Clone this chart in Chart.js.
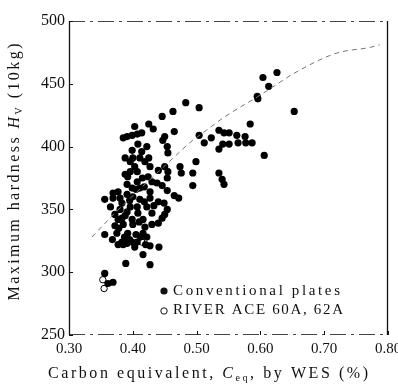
<!DOCTYPE html>
<html>
<head>
<meta charset="utf-8">
<script src="https://cdn.jsdelivr.net/npm/chart.js@4"></script>
<style>
  html, body { margin: 0; padding: 0; background: #fff; }
  canvas { display: block; }
</style>
</head>
<body>
<canvas id="chart" width="398" height="386"></canvas>
<script>
// conventional plates (filled dots)
const convX = [
  0.626, 0.604, 0.613, 0.595, 0.596, 0.653, 0.483, 0.504, 0.463, 0.446,
  0.504, 0.512, 0.523, 0.535, 0.543, 0.551, 0.541, 0.551, 0.563, 0.565,
  0.576, 0.577, 0.587, 0.535, 0.584, 0.606, 0.535, 0.540, 0.543,
  0.403, 0.425, 0.432, 0.385, 0.391, 0.399, 0.407, 0.414, 0.408, 0.399,
  0.414, 0.422, 0.388, 0.400, 0.411, 0.425,
  0.465, 0.450, 0.447, 0.454, 0.455, 0.450, 0.455, 0.474, 0.476, 0.499,
  0.494, 0.454, 0.446, 0.494, 0.454, 0.465, 0.472, 0.449, 0.454, 0.450, 0.446,
  0.396, 0.403, 0.419, 0.427, 0.396, 0.407, 0.440, 0.392, 0.424, 0.407,
  0.391, 0.438, 0.399, 0.411, 0.427, 0.369, 0.377, 0.391, 0.400, 0.369,
  0.380, 0.411, 0.427, 0.356, 0.440, 0.383, 0.396, 0.407, 0.422, 0.391,
  0.408, 0.430, 0.383, 0.377, 0.399, 0.416, 0.385, 0.400, 0.419, 0.430, 0.440,
  0.388, 0.415, 0.430, 0.395, 0.418, 0.433, 0.388, 0.410, 0.392, 0.405,
  0.395, 0.412, 0.420, 0.387, 0.405, 0.418, 0.380, 0.372, 0.365, 0.375, 0.368,
  0.356, 0.372, 0.378, 0.383, 0.391, 0.399, 0.407, 0.416, 0.422, 0.377,
  0.385, 0.403, 0.427, 0.441, 0.416, 0.389, 0.427, 0.356, 0.361, 0.369
];
const convY = [
  459, 455, 448, 440, 438, 428, 435, 431, 428, 424,
  409, 403, 407, 413, 411, 411, 402, 402, 409, 403,
  408, 403, 403, 398, 418, 393, 379, 374, 370,
  416, 418, 414, 407, 408, 409, 410, 411, 402, 397,
  396, 400, 391, 391, 391, 391,
  412, 408, 405, 400, 395, 384, 380, 384, 379, 388,
  379, 375, 369, 369, 365, 361, 359, 355, 350, 346, 343,
  388, 384, 388, 384, 380, 380, 381, 376, 376, 372,
  370, 371, 367, 367, 364, 363, 364, 362, 360, 359,
  359, 358, 359, 358, 356, 355, 352, 352, 352, 348,
  347, 347, 343, 342, 342, 342, 338, 338, 336, 338, 339,
  378, 375, 372, 357, 356, 353, 345, 340, 331, 330,
  326, 328, 322, 328, 366, 368, 350, 346, 352, 331, 326,
  330, 337, 335, 324, 323, 324, 324, 331, 328, 322,
  322, 320, 321, 320, 314, 307, 306, 299, 291, 292
];

// RIVER ACE 60A, 62A (open circles)
const riverX = [0.414, 0.353, 0.355];
const riverY = [324, 294, 287];

// dashed trend curve
const curveX = [0.336, 0.369, 0.455, 0.494, 0.510, 0.545, 0.595, 0.662, 0.720, 0.772, 0.787];
const curveY = [328, 345.5, 387, 405, 411, 424, 439.5, 461, 474.5, 479, 481];

const xTicks = [0.30, 0.40, 0.50, 0.60, 0.70, 0.80];
const yTicks = [250, 300, 350, 400, 450, 500];

const legendLabels = ['Conventional plates', 'RIVER ACE 60A, 62A'];

const SERIF = '"Liberation Serif", "DejaVu Serif", serif';

const toPoints = (xs, ys) => xs.map((x, i) => ({ x: x, y: ys[i] }));

// draw text char by char so it can be spread to a given width
function spacedText(ctx, segs, cx, cy, target) {
    const chars = [];
    segs.forEach(s => {
        for (const ch of s.text) chars.push({ ch: ch, font: s.font, dy: s.dy || 0 });
    });
    let natural = 0;
    chars.forEach(c => { ctx.font = c.font; c.w = ctx.measureText(c.ch).width; natural += c.w; });
    const gap = chars.length > 1 ? (target - natural) / (chars.length - 1) : 0;
    let x = cx - target / 2;
    ctx.textAlign = 'left';
    ctx.textBaseline = 'middle';
    chars.forEach(c => {
        ctx.font = c.font;
        ctx.fillText(c.ch, x, cy + c.dy);
        x += c.w + gap;
    });
}

const paperPlugin = {
    id: 'paper',
    afterDraw(chart) {
        const ctx = chart.ctx;
        const a = chart.chartArea;
        const xs = chart.scales.x, ys = chart.scales.y;
        ctx.save();
        ctx.fillStyle = '#111';
        ctx.strokeStyle = '#111';

        // frame
        ctx.lineWidth = 1.3;
        ctx.beginPath();
        ctx.moveTo(a.left + 0.5, a.top); ctx.lineTo(a.left + 0.5, a.bottom);
        ctx.moveTo(a.right - 0.5, a.top); ctx.lineTo(a.right - 0.5, a.bottom);
        ctx.stroke();
        ctx.lineWidth = 1;
        ctx.strokeStyle = '#444';
        ctx.setLineDash([16, 5, 3, 5]);
        ctx.beginPath();
        ctx.moveTo(a.left, a.top + 0.5); ctx.lineTo(a.right, a.top + 0.5);
        ctx.moveTo(a.left, a.bottom - 0.5); ctx.lineTo(a.right, a.bottom - 0.5);
        ctx.stroke();
        ctx.setLineDash([]);

        // inward ticks
        ctx.strokeStyle = '#111';
        ctx.beginPath();
        yTicks.forEach(v => {
            const py = Math.round(ys.getPixelForValue(v)) + 0.5;
            ctx.moveTo(a.left, py); ctx.lineTo(a.left + 4, py);
        });
        xTicks.forEach(v => {
            const px = Math.round(xs.getPixelForValue(v)) + 0.5;
            ctx.moveTo(px, a.bottom); ctx.lineTo(px, a.bottom - 4);
        });
        ctx.stroke();

        // legend
        ctx.beginPath();
        ctx.arc(164, 291, 3.6, 0, Math.PI * 2);
        ctx.fill();
        ctx.beginPath();
        ctx.fillStyle = '#fff';
        ctx.lineWidth = 1;
        ctx.arc(164, 311, 3.2, 0, Math.PI * 2);
        ctx.fill();
        ctx.stroke();
        ctx.fillStyle = '#111';
        spacedText(ctx, [{ text: legendLabels[0], font: '15px ' + SERIF }], 173 + 167 / 2, 291, 167);
        spacedText(ctx, [{ text: legendLabels[1], font: '15px ' + SERIF }], 173 + 170 / 2, 310, 170);

        // x title
        spacedText(ctx, [
            { text: 'Carbon equivalent, ', font: '16px ' + SERIF },
            { text: 'C', font: 'italic 16px ' + SERIF },
            { text: 'eq', font: '10px ' + SERIF, dy: 4 },
            { text: ', by WES (%)', font: '16px ' + SERIF }
        ], 208, 374, 320);

        // y title
        ctx.translate(15, 172);
        ctx.rotate(-Math.PI / 2);
        spacedText(ctx, [
            { text: 'Maximum hardness ', font: '16px ' + SERIF },
            { text: 'H', font: 'italic 16px ' + SERIF },
            { text: 'V', font: '10px ' + SERIF, dy: 4 },
            { text: ' (10kg)', font: '16px ' + SERIF }
        ], 0, 0, 257);
        ctx.restore();
    }
};

new Chart(document.getElementById('chart'), {
    type: 'scatter',
    data: {
        datasets: [
            {
                label: 'curve',
                data: toPoints(curveX, curveY),
                showLine: true,
                borderColor: '#777',
                borderWidth: 1,
                borderDash: [5, 4],
                cubicInterpolationMode: 'monotone',
                pointRadius: 0,
                fill: false
            },
            {
                label: legendLabels[0],
                data: toPoints(convX, convY),
                pointRadius: 3.6,
                pointBackgroundColor: '#000',
                pointBorderColor: '#000',
                pointBorderWidth: 0
            },
            {
                label: legendLabels[1],
                data: toPoints(riverX, riverY),
                pointRadius: 3.2,
                pointBackgroundColor: '#fff',
                pointBorderColor: '#000',
                pointBorderWidth: 1
            }
        ]
    },
    options: {
        responsive: false,
        animation: false,
        layout: { padding: { left: 0, top: 21, right: 10, bottom: 0 } },
        plugins: {
            legend: { display: false },
            tooltip: { enabled: false }
        },
        scales: {
            x: {
                type: 'linear',
                min: 0.3,
                max: 0.8,
                grid: { display: false, drawTicks: false },
                border: { display: false },
                ticks: {
                    stepSize: 0.1,
                    padding: 5,
                    maxRotation: 0,
                    color: '#111',
                    font: { family: SERIF, size: 15 },
                    callback: v => v.toFixed(2)
                },
                afterFit: s => { s.height = 51; s.paddingLeft = 0; s.paddingRight = 0; }
            },
            y: {
                type: 'linear',
                min: 250,
                max: 500,
                grid: { display: false, drawTicks: false },
                border: { display: false },
                ticks: {
                    stepSize: 50,
                    padding: 4,
                    color: '#111',
                    font: { family: SERIF, size: 16 }
                },
                afterFit: s => { s.width = 69; s.paddingTop = 0; s.paddingBottom = 0; }
            }
        }
    },
    plugins: [paperPlugin]
});
</script>
</body>
</html>
